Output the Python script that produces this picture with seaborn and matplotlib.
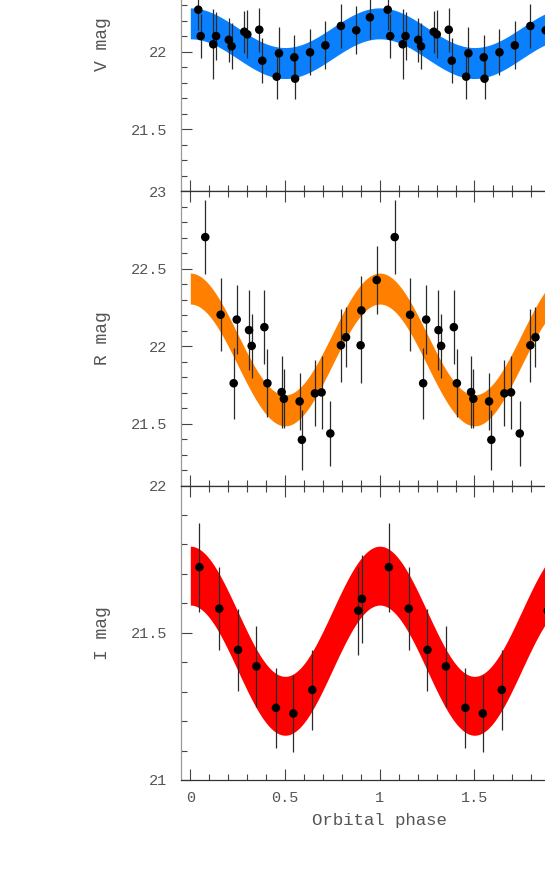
import numpy as np
import matplotlib
matplotlib.use("Agg")
import matplotlib.pyplot as plt
from matplotlib.ticker import MultipleLocator, FixedLocator, FuncFormatter
import seaborn as sns

sns.set_theme(style="ticks")
plt.rcParams["font.family"] = ["Liberation Mono", "DejaVu Sans Mono"]

# ------------------------------------------------------------------
# Data (one cycle, plotted twice)
# ------------------------------------------------------------------
v_phase = [0.042, 0.055, 0.121, 0.136, 0.203, 0.218, 0.285, 0.301, 0.364, 0.380,
           0.456, 0.468, 0.549, 0.553, 0.632, 0.713, 0.795, 0.876, 0.948]
v_mag = [22.271, 22.101, 22.048, 22.101, 22.077, 22.035, 22.129, 22.112, 22.142, 21.942,
         21.839, 21.990, 21.964, 21.826, 21.996, 22.041, 22.166, 22.138, 22.222]
v_err = [0.13, 0.142, 0.226, 0.155, 0.142, 0.148, 0.135, 0.155, 0.142, 0.145,
         0.142, 0.168, 0.142, 0.132, 0.148, 0.155, 0.142, 0.155, 0.142]

r_phase = [0.079, 0.160, 0.229, 0.245, 0.310, 0.324, 0.391, 0.407, 0.482, 0.494,
           0.577, 0.589, 0.658, 0.693, 0.739, 0.795, 0.822, 0.899, 0.903, 0.984]
r_mag = [22.704, 22.203, 21.761, 22.172, 22.104, 22.002, 22.123, 21.761, 21.704, 21.661,
         21.644, 21.396, 21.696, 21.702, 21.437, 22.006, 22.058, 22.006, 22.231, 22.427]
r_err = [0.24, 0.234, 0.229, 0.225, 0.26, 0.205, 0.24, 0.22, 0.23, 0.19,
         0.185, 0.195, 0.213, 0.237, 0.21, 0.235, 0.195, 0.245, 0.22, 0.22]

i_phase = [0.048, 0.153, 0.252, 0.349, 0.452, 0.544, 0.644, 0.887, 0.906]
i_mag = [21.723, 21.582, 21.442, 21.386, 21.245, 21.226, 21.306, 21.575, 21.615]
i_err = [0.151, 0.142, 0.139, 0.137, 0.135, 0.131, 0.137, 0.149, 0.15]

# sinusoidal model bands: mean mag, semi-amplitude, half width
v_model = (22.055, 0.128, 0.10)
r_model = (21.979, 0.393, 0.10)
i_model = (21.473, 0.221, 0.10)

# labelled y ticks (only those inside the visible figure)
v_yticks = [21.5, 22.0]
r_yticks = [21.5, 22.0, 22.5, 23.0]
i_yticks = [21.0, 21.5, 22.0]
x_ticks = [0, 0.5, 1, 1.5]

panels = [
    ("V mag", v_phase, v_mag, v_err, v_model, "#0a80ff", (21.1, 23.0), v_yticks),
    ("R mag", r_phase, r_mag, r_err, r_model, "#ff8000", (21.1, 23.0), r_yticks),
    ("I mag", i_phase, i_mag, i_err, i_model, "#ff0000", (21.0, 22.0), i_yticks),
]

TXT = "#555555"
fig = plt.figure(figsize=(5.45, 8.73), dpi=100)
left, width = 0.3318, 0.730
bottoms = [0.78099, 0.44364, 0.10653]
height = 0.3373

grid = np.linspace(0, 2, 600)
for k, (label, ph, mag, err, model, col, ylim, yticks) in enumerate(panels):
    ax = fig.add_axes([left, bottoms[k], width, height])
    mean, amp, hw = model
    curve = mean + amp * np.cos(2 * np.pi * grid)
    ax.fill_between(grid, curve - hw, curve + hw, color=col, lw=0, zorder=1)

    ph2 = np.concatenate([ph, np.array(ph) + 1])
    mag2 = np.concatenate([mag, mag])
    err2 = np.concatenate([err, err])
    ax.errorbar(ph2, mag2, yerr=err2, fmt="none", ecolor="#2a2a2a",
                elinewidth=0.9, capsize=0, zorder=3)
    sns.scatterplot(x=ph2, y=mag2, color="black", s=38, edgecolor="none",
                    zorder=4, ax=ax, legend=False)

    ax.set_xlim(-0.05, 2.05)
    ax.set_ylim(*ylim)
    ax.xaxis.set_major_locator(FixedLocator(x_ticks))
    ax.xaxis.set_minor_locator(MultipleLocator(0.1))
    ax.yaxis.set_major_locator(FixedLocator(yticks))
    ax.yaxis.set_minor_locator(MultipleLocator(0.1))
    ax.yaxis.set_major_formatter(FuncFormatter(lambda v, p: f"{v:g}"))
    ax.xaxis.set_major_formatter(FuncFormatter(lambda v, p: f"{v:g}"))
    ax.tick_params(which="both", direction="in", top=True, bottom=True,
                   left=True, right=True, colors="#444444", labelcolor=TXT,
                   labelsize=11)
    ax.tick_params(which="major", length=8, width=0.8)
    ax.tick_params(which="minor", length=4, width=0.8)
    ax.tick_params(axis="y", pad=10)
    ax.tick_params(axis="x", pad=8)
    for side in ["top", "bottom"]:
        ax.spines[side].set_color("#333333")
        ax.spines[side].set_linewidth(0.9)
    for side in ["left", "right"]:
        ax.spines[side].set_color("#999999")
        ax.spines[side].set_linewidth(0.9)
    ax.set_ylabel(label, color=TXT, fontsize=13, labelpad=14)
    if k < 2:
        ax.tick_params(labelbottom=False)
    else:
        ax.set_xlabel("Orbital phase", color=TXT, fontsize=12.5, labelpad=6)

fig.savefig("out.png", dpi=100)
